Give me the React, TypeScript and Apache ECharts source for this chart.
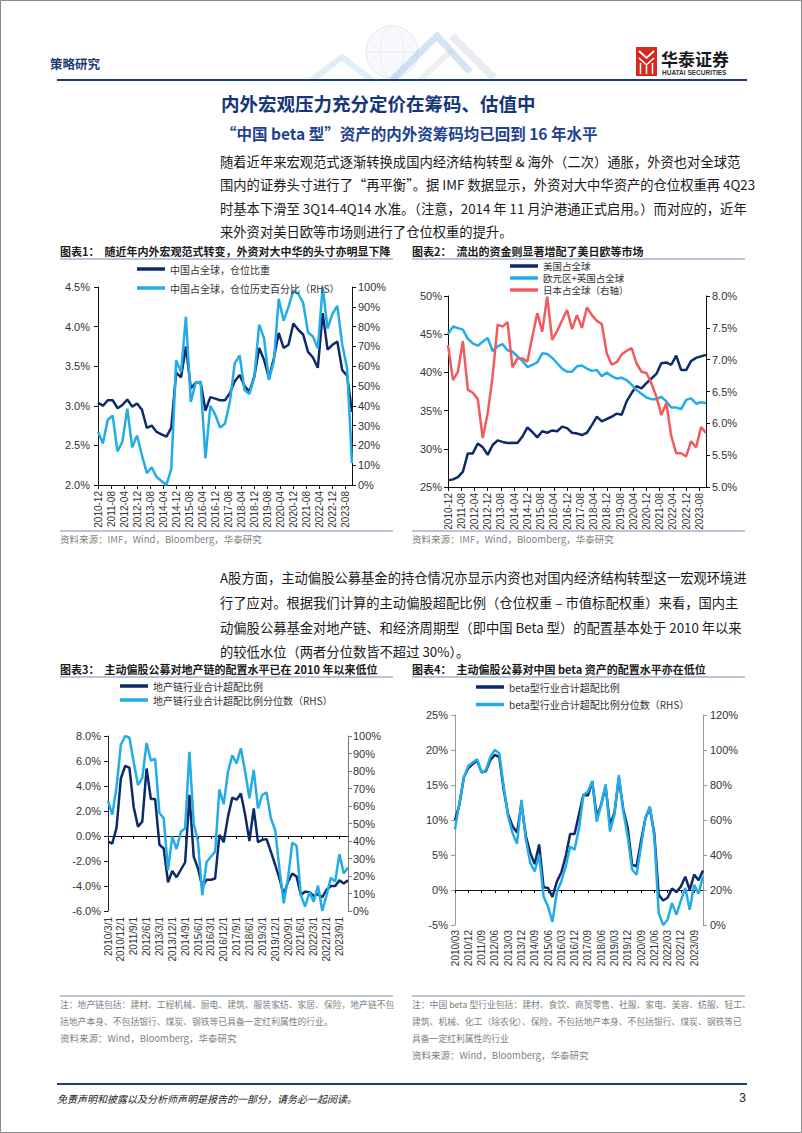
import React, { useEffect, useRef } from 'react';
import * as echarts from 'echarts';

// ---------- data ----------
const monthTicks = ['2010-12','2011-08','2012-04','2012-12','2013-08','2014-04','2014-12','2015-08','2016-04','2016-12','2017-08','2018-04','2018-12','2019-08','2020-04','2020-12','2021-08','2022-04','2022-12','2023-08'];

// quarterly, 2010-12 .. 2023-12
const chinaWeight = [3.04,3.00,3.07,3.07,2.97,3.01,3.08,2.99,3.03,2.95,2.72,2.75,2.67,2.64,2.61,2.72,3.42,3.36,3.75,3.22,3.29,3.30,2.94,3.11,3.09,3.07,3.07,3.16,3.31,3.39,3.25,3.18,3.37,3.73,3.58,3.35,3.60,3.92,3.73,3.77,4.04,3.96,3.90,3.68,3.61,3.48,4.17,3.71,3.77,3.81,3.45,3.38,2.92];
const chinaPct = [27,21,33,35,17,22,38.5,19,25,15,6,9,4,2,0,8,63,57,85,42,51.5,52,13.5,40,35.5,29,31,42,61.5,65.5,48,46,54.5,81,74,53,62.5,94,83,90,98.3,96.6,92,77,75,69,100,79,86.5,90.4,71,59,11];

const usShare = [25.87,26.0,26.3,27.0,29.4,29.4,30.7,30.2,29.2,30.5,31.1,30.9,30.75,30.8,30.75,31.6,32.8,32.2,31.5,32.3,32.1,32.4,32.3,32.9,32.7,32.1,32.0,31.8,32.1,33.1,34.2,33.6,33.9,34.2,34.6,34.45,36.2,37.3,38.2,37.9,38.6,39.2,39.8,41.2,41.3,41.0,42.2,40.3,40.3,41.5,41.9,42.1,42.3];
const euUkShare = [45.0,46.0,45.8,45.6,44.4,43.8,43.5,44.0,44.5,42.8,43.4,43.7,42.9,42.7,42.1,41.5,40.7,41.0,41.3,42.5,42.4,41.9,41.2,40.5,40.1,40.1,40.8,40.9,40.5,40.2,40.3,39.5,40.0,39.5,39.2,39.3,39.0,38.4,37.7,37.2,36.7,36.5,36.5,36.8,36.2,35.4,35.4,35.2,36.4,36.6,35.9,36.1,36.0];
const japanShare = [7.23,6.68,6.81,7.29,6.53,6.48,6.38,5.77,6.16,6.74,7.55,7.52,7.59,6.88,7.02,7.02,6.97,7.36,7.73,7.44,7.99,7.31,7.45,7.62,7.78,7.48,7.70,7.50,7.82,7.70,7.61,7.56,7.10,6.92,6.96,7.08,7.14,7.18,6.94,6.81,6.79,6.63,6.42,6.13,6.32,5.80,5.53,5.53,5.48,5.72,5.62,5.94,5.85];

// quarterly, 2010Q1 .. 2024Q1
const propOver = [-0.45,-0.6,0.67,4.6,5.6,5.47,2.3,0.75,1.15,5.4,2.96,2.96,-0.7,-1.0,-3.7,-2.8,-3.3,-2.7,-2.1,3.3,-1.65,-2.6,-4.05,-3.5,-3.5,-3.4,0.1,-0.5,1.55,3.07,2.9,3.4,1.7,-0.4,2.2,-0.5,-0.3,-0.25,-1.25,-2.3,-3.4,-4.7,-3.65,-3.0,-3.25,-4.7,-4.45,-4.5,-4.8,-4.65,-4.9,-4.3,-4.0,-4.0,-3.55,-3.8,-3.55];
const propPct = [63,55,71,95,100,99,85,72,76,96,86,87,56,53,23.4,42.5,35.4,45.3,47.2,91,50,39.6,9,28,31,34,69.5,61,79.6,89,84.4,93,79.6,64.4,80.6,58.7,66.3,67.8,53,46.3,24.4,4.4,18.7,39,37.3,9,2.5,10.7,5.3,14.5,0,9,19,16.8,32.4,21.5,24.8];
const betaOver = [10.0,12.2,16.1,17.4,18.0,18.5,16.8,17.0,18.6,19.3,19.0,14.3,10.8,9.1,8.2,12.3,7.7,5.3,3.7,6.5,0.4,0.3,-1.0,1.2,2.5,4.8,8.0,8.0,10.8,13.6,13.5,15.5,10.5,12.2,14.8,9.3,11.0,16.0,11.5,8.9,3.6,3.4,7.0,10.3,11.7,8.1,-0.7,-1.5,-1.1,0.2,-0.3,0.5,1.9,0,2.2,1.4,2.8];
const betaPct = [54.8,69.6,84.4,90.9,92.8,94.7,87.1,88.6,96.2,100,98.1,79.1,62,52.5,46.4,71.5,48.7,35.4,30.6,40.1,16.3,10.6,1.7,18.8,24.9,33.5,44.9,43,55.3,74.3,76.2,82.3,59.1,68.6,80.4,53.4,62.9,85.7,64.8,50.6,31.6,28.7,44.9,61,67.7,50.6,6.8,0,3,12.5,5.9,13.9,21.1,8.7,23,17.9,27.8];

const quarterYears = [2010,2011,2012,2013,2014,2015,2016,2017,2018,2019,2020,2021,2022,2023,2024];
const quarterMonths = [3,6,9,12];
const quarters: [number, number][] = [];
quarterYears.forEach((y) => quarterMonths.forEach((m) => { if (!(y === 2024 && m > 3)) quarters.push([y, m]); }));
const catsSlash = quarters.map(([y, m]) => `${y}/${m}/1`);
const catsPad = quarters.map(([y, m]) => `${y}/${m < 10 ? '0' + m : m}`);

// ---------- style ----------
const CJK = '"Noto Sans CJK SC", "Noto Sans", sans-serif';
const LAT = '"Liberation Sans", Arial, sans-serif';
const DARK = '#0d2b69';
const LIGHT = '#22ade8';
const RED = '#f25b5e';
const GRAYTXT = '#7f7f7f';

const txt = (text: string, x: number, y: number, size: number, color: string, o: any = {}) => ({
  type: 'text', x, y, silent: true,
  style: {
    text, fontSize: size, fontFamily: o.family || CJK, fontWeight: o.weight || 'normal',
    fontStyle: o.style || 'normal', fill: color, textAlign: o.align || 'left', textVerticalAlign: 'middle',
  },
});
const hline = (x1: number, x2: number, y: number, color: string, w: number) => ({
  type: 'line', silent: true, shape: { x1, y1: y, x2, y2: y }, style: { stroke: color, lineWidth: w },
});

const monthFmt = (v: number) => {
  const k = v / 8;
  return Number.isInteger(k) && monthTicks[k] ? monthTicks[k] : '';
};

const yAx = (grid: number, pos: string, min: number, max: number, interval: number, fmt: (v: number) => string, lineColor: string, margin: number) => ({
  type: 'value', gridIndex: grid, position: pos, min, max, interval,
  axisLine: { show: true, onZero: false, lineStyle: { color: lineColor, width: 1 } },
  axisTick: { show: true, length: 4, lineStyle: { color: lineColor } },
  splitLine: { show: false },
  axisLabel: { formatter: fmt, fontSize: 11, color: '#333', fontFamily: LAT, margin },
});

const valX = (grid: number) => ({
  type: 'value', gridIndex: grid, min: 0, max: 156, interval: 8,
  axisLine: { show: true, onZero: false, lineStyle: { color: '#111', width: 1 } },
  axisTick: { show: true, length: 4, lineStyle: { color: '#111' } },
  splitLine: { show: false },
  axisLabel: { rotate: 90, formatter: monthFmt, fontSize: 10, color: '#333', fontFamily: LAT, margin: 6, showMaxLabel: false },
});

const catLabelX = (grid: number, data: string[], margin: number) => ({
  type: 'category', gridIndex: grid, position: 'bottom', data, boundaryGap: false,
  axisLine: { show: false, onZero: false }, axisTick: { show: false },
  axisLabel: { rotate: 90, interval: 2, fontSize: 10, color: '#333', fontFamily: LAT, margin },
});
const catZeroX = (grid: number, data: string[]) => ({
  type: 'category', gridIndex: grid, position: 'top', data, boundaryGap: false,
  axisLine: { show: true, onZero: true, lineStyle: { color: '#111', width: 1 } },
  axisTick: { show: true, inside: true, interval: 2, length: 3, lineStyle: { color: '#111' } },
  axisLabel: { show: false },
});

const line = (name: string, xi: number, yi: number, data: any[], color: string) => ({
  type: 'line', name, xAxisIndex: xi, yAxisIndex: yi, data, symbol: 'none', showSymbol: false,
  lineStyle: { width: 2.5, color }, itemStyle: { color }, emphasis: { disabled: true },
});

const legend = (names: string[], left: number, top: number, fs: number, lh: number, gap: number) => ({
  data: names, orient: 'vertical', left, top, padding: 0, itemWidth: 28, itemHeight: 3.5, itemGap: gap,
  icon: 'rect', selectedMode: false,
  textStyle: { fontSize: fs, color: '#333', fontFamily: CJK, lineHeight: lh, padding: [0, 0, 0, 0] },
});

const graphics: any[] = [
  { type: 'rect', silent: true, shape: { x: 0.5, y: 0.5, width: 801, height: 1132 }, style: { fill: 'none', stroke: '#8a8a8a', lineWidth: 1 } },
  // header decoration (faint)
  { type: 'circle', silent: true, shape: { cx: 392, cy: 52, r: 26 }, style: { fill: 'rgba(230,236,244,0.3)', stroke: '#e3e7ee', lineWidth: 1 } },
  { type: 'ellipse', silent: true, shape: { cx: 392, cy: 52, rx: 12, ry: 26 }, style: { fill: 'none', stroke: '#e8ebf0', lineWidth: 1 } },
  { type: 'line', silent: true, shape: { x1: 366, y1: 52, x2: 418, y2: 52 }, style: { stroke: '#e8ebf0', lineWidth: 1 } },
  { type: 'polyline', silent: true, shape: { points: [[312, 80], [342, 57], [372, 80]] }, style: { stroke: 'rgba(170,202,232,0.35)', lineWidth: 6, fill: 'none' } },
  { type: 'polyline', silent: true, shape: { points: [[392, 80], [437, 36], [470, 72]] }, style: { stroke: 'rgba(130,178,225,0.35)', lineWidth: 7, fill: 'none' } },
  { type: 'polyline', silent: true, shape: { points: [[452, 36], [494, 78]] }, style: { stroke: 'rgba(195,200,210,0.35)', lineWidth: 8, fill: 'none' } },
  { type: 'polyline', silent: true, shape: { points: [[420, 80], [452, 50]] }, style: { stroke: 'rgba(205,210,218,0.35)', lineWidth: 6, fill: 'none' } },
  txt('策略研究', 50, 63, 12.5, '#1f3b73', { weight: 'bold' }),
  // logo
  { type: 'rect', silent: true, shape: { x: 636, y: 47, width: 21, height: 29 }, style: { fill: '#d42a20' } },
  { type: 'polyline', silent: true, shape: { points: [[639, 51], [646.5, 58], [654, 51]] }, style: { stroke: '#fff', lineWidth: 2, fill: 'none' } },
  { type: 'polyline', silent: true, shape: { points: [[639, 58], [646.5, 65], [654, 58]] }, style: { stroke: '#fff', lineWidth: 1.6, fill: 'none' } },
  { type: 'line', silent: true, shape: { x1: 640.5, y1: 63, x2: 640.5, y2: 74 }, style: { stroke: '#fff', lineWidth: 1.5 } },
  { type: 'line', silent: true, shape: { x1: 646.5, y1: 66, x2: 646.5, y2: 74 }, style: { stroke: '#fff', lineWidth: 1.5 } },
  { type: 'line', silent: true, shape: { x1: 652.5, y1: 63, x2: 652.5, y2: 74 }, style: { stroke: '#fff', lineWidth: 1.5 } },
  txt('华泰证券', 661, 58, 17, '#1a1a1a', { weight: 'bold' }),
  txt('HUATAI SECURITIES', 662, 72, 6.5, '#333', { family: LAT, weight: 'bold' }),
  hline(57, 747, 80, '#1d3c78', 2.2),
  // titles
  txt('内外宏观压力充分定价在筹码、估值中', 221, 103, 18.5, '#16367a', { weight: 'bold' }),
  txt('“中国 beta 型”资产的内外资筹码均已回到 16 年水平', 221, 133, 15.5, '#1c4290', { weight: 'bold' }),
  txt('随着近年来宏观范式逐渐转换成国内经济结构转型 & 海外（二次）通胀，外资也对全球范', 220, 161, 13.3, '#1a1a1a'),
  txt('围内的证券头寸进行了“再平衡”。据 IMF 数据显示，外资对大中华资产的仓位权重再 4Q23', 220, 184.5, 13.3, '#1a1a1a'),
  txt('时基本下滑至 3Q14-4Q14 水准。（注意，2014 年 11 月沪港通正式启用。）而对应的，近年', 220, 208, 13.3, '#1a1a1a'),
  txt('来外资对美日欧等市场则进行了仓位权重的提升。', 220, 231.5, 13.3, '#1a1a1a'),
  // chart 1 / 2 headers
  txt('图表1：  随近年内外宏观范式转变，外资对大中华的头寸亦明显下降', 60, 251, 11, '#1a1a1a', { weight: 'bold' }),
  hline(60, 393, 259, '#a3b3cb', 1.5),
  txt('图表2：  流出的资金则显著增配了美日欧等市场', 412, 251, 11, '#1a1a1a', { weight: 'bold' }),
  hline(412, 745, 259, '#a3b3cb', 1.5),
  hline(60, 393, 531, '#a3b3cb', 1.5),
  hline(412, 745, 531, '#a3b3cb', 1.5),
  txt('资料来源：IMF，Wind，Bloomberg，华泰研究', 60, 539, 9.5, GRAYTXT),
  txt('资料来源：IMF，Wind，Bloomberg，华泰研究', 412, 539, 9.5, GRAYTXT),
  // middle paragraph
  txt('A股方面，主动偏股公募基金的持仓情况亦显示内资也对国内经济结构转型这一宏观环境进', 220, 577, 13.3, '#1a1a1a'),
  txt('行了应对。根据我们计算的主动偏股超配比例（仓位权重 – 市值标配权重）来看，国内主', 220, 602, 13.3, '#1a1a1a'),
  txt('动偏股公募基金对地产链、和经济周期型（即中国 Beta 型）的配置基本处于 2010 年以来', 220, 627, 13.3, '#1a1a1a'),
  txt('的较低水位（两者分位数皆不超过 30%）。', 220, 651, 13.3, '#1a1a1a'),
  // chart 3 / 4 headers
  txt('图表3：  主动偏股公募对地产链的配置水平已在 2010 年以来低位', 60, 669, 11, '#1a1a1a', { weight: 'bold' }),
  hline(60, 393, 677, '#a3b3cb', 1.5),
  txt('图表4：  主动偏股公募对中国 beta 资产的配置水平亦在低位', 412, 669, 11, '#1a1a1a', { weight: 'bold' }),
  hline(412, 745, 677, '#a3b3cb', 1.5),
  hline(60, 393, 996, '#a3b3cb', 1.5),
  hline(412, 745, 996, '#a3b3cb', 1.5),
  txt('注：地产链包括：建材、工程机械、厨电、建筑、服装家纺、家居、保险，地产链不包', 60, 1004, 8.8, GRAYTXT),
  txt('括地产本身、不包括银行、煤炭、钢铁等已具备一定红利属性的行业。', 60, 1021, 8.8, GRAYTXT),
  txt('资料来源：Wind，Bloomberg，华泰研究', 60, 1038, 9.5, GRAYTXT),
  txt('注：中国 beta 型行业包括：建材、食饮、商贸零售、社服、家电、美容、纺服、轻工、', 412, 1004, 8.8, GRAYTXT),
  txt('建筑、机械、化工（除农化）、保险，不包括地产本身、不包括银行、煤炭、钢铁等已', 412, 1021, 8.8, GRAYTXT),
  txt('具备一定红利属性的行业', 412, 1038, 8.8, GRAYTXT),
  txt('资料来源：Wind，Bloomberg，华泰研究', 412, 1055, 9.5, GRAYTXT),
  // footer
  hline(57, 747, 1084, '#1d3c78', 2),
  txt('免责声明和披露以及分析师声明是报告的一部分，请务必一起阅读。', 57, 1098, 10, '#222', { style: 'italic' }),
  txt('3', 746, 1098, 12, '#222', { family: LAT, align: 'right' }),
];

const option: any = {
  animation: false,
  backgroundColor: '#fff',
  grid: [
    { left: 98, top: 287, width: 254, height: 198 },
    { left: 448, top: 296, width: 258, height: 191 },
    { left: 108, top: 736, width: 240, height: 175 },
    { left: 455, top: 715, width: 248, height: 210 },
  ],
  xAxis: [
    valX(0),
    valX(1),
    catLabelX(2, catsSlash, 6),
    catZeroX(2, catsSlash),
    catLabelX(3, catsPad, 5),
    catZeroX(3, catsPad),
  ],
  yAxis: [
    yAx(0, 'left', 2.0, 4.5, 0.5, (v) => v.toFixed(1) + '%', '#111', 8),
    yAx(0, 'right', 0, 100, 10, (v) => Math.round(v) + '%', '#111', 6),
    yAx(1, 'left', 25, 50, 5, (v) => Math.round(v) + '%', '#111', 6),
    yAx(1, 'right', 5.0, 8.0, 0.5, (v) => v.toFixed(1) + '%', '#111', 6),
    yAx(2, 'left', -6, 8, 2, (v) => v.toFixed(1) + '%', '#222', 7),
    yAx(2, 'right', 0, 100, 10, (v) => Math.round(v) + '%', '#777', 5),
    yAx(3, 'left', -5, 25, 5, (v) => Math.round(v) + '%', '#999', 7),
    yAx(3, 'right', 0, 120, 20, (v) => Math.round(v) + '%', '#999', 7),
  ],
  legend: [
    legend(['中国占全球，仓位比重', '中国占全球，仓位历史百分比（RHS）'], 137, 263, 10, 12, 7),
    legend(['美国占全球', '欧元区+英国占全球', '日本占全球（右轴）'], 510, 260, 9.5, 12, 0),
    legend(['地产链行业合计超配比例', '地产链行业合计超配比例分位数（RHS）'], 120, 680, 10, 12, 2),
    legend(['beta型行业合计超配比例', 'beta型行业合计超配比例分位数（RHS）'], 476, 681, 10, 12, 5.5),
  ],
  series: [
    line('中国占全球，仓位比重', 0, 0, chinaWeight.map((v, i) => [i * 3, v]), DARK),
    line('中国占全球，仓位历史百分比（RHS）', 0, 1, chinaPct.map((v, i) => [i * 3, v]), LIGHT),
    line('美国占全球', 1, 2, usShare.map((v, i) => [i * 3, v]), DARK),
    line('欧元区+英国占全球', 1, 2, euUkShare.map((v, i) => [i * 3, v]), LIGHT),
    line('日本占全球（右轴）', 1, 3, japanShare.map((v, i) => [i * 3, v]), RED),
    line('地产链行业合计超配比例', 2, 4, propOver, DARK),
    line('地产链行业合计超配比例分位数（RHS）', 2, 5, propPct, LIGHT),
    line('beta型行业合计超配比例', 4, 6, betaOver, DARK),
    line('beta型行业合计超配比例分位数（RHS）', 4, 7, betaPct, LIGHT),
  ],
  graphic: graphics,
};

export default function App() {
  const ref = useRef<HTMLDivElement>(null);
  useEffect(() => {
    const chart = echarts.init(ref.current as HTMLDivElement, undefined, { renderer: 'svg', width: 802, height: 1133 });
    chart.setOption(option);
    return () => chart.dispose();
  }, []);
  return <div ref={ref} style={{ position: 'absolute', left: 0, top: 0, width: 802, height: 1133, background: '#fff' }} />;
}
